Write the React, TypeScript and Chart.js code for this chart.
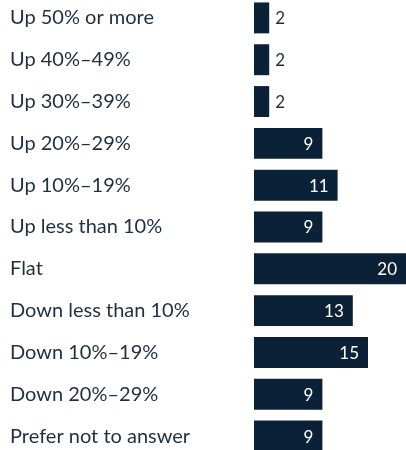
import React, { useEffect, useRef } from "react";
import { Chart, registerables } from "chart.js";

Chart.register(...registerables);

const categories = [
  "Up 50% or more",
  "Up 40%–49%",
  "Up 30%–39%",
  "Up 20%–29%",
  "Up 10%–19%",
  "Up less than 10%",
  "Flat",
  "Down less than 10%",
  "Down 10%–19%",
  "Down 20%–29%",
  "Prefer not to answer",
];
const values = [2, 2, 2, 9, 11, 9, 20, 13, 15, 9, 9];

const BAR = "#0b2137";
const TEXT = "#1f2f40";
const FONT = "Lato, 'Open Sans', sans-serif";

const valueLabels = {
  id: "valueLabels",
  afterDatasetsDraw(chart: any) {
    const ctx = chart.ctx;
    const meta = chart.getDatasetMeta(0);
    ctx.save();
    ctx.font = `17px ${FONT}`;
    ctx.textBaseline = "middle";
    meta.data.forEach((bar: any, i: number) => {
      const v = values[i];
      const txt = String(v);
      if (v >= 5) {
        ctx.fillStyle = "#ffffff";
        ctx.textAlign = "right";
        ctx.fillText(txt, bar.x - 9, bar.y + 1);
      } else {
        ctx.fillStyle = TEXT;
        ctx.textAlign = "left";
        ctx.fillText(txt, bar.x + 6, bar.y + 1);
      }
    });
    ctx.restore();
  },
};

export default function App() {
  const ref = useRef<HTMLCanvasElement>(null);
  useEffect(() => {
    if (!ref.current) return;
    const chart = new Chart(ref.current, {
      type: "bar",
      data: {
        labels: categories,
        datasets: [
          {
            data: values,
            backgroundColor: BAR,
            barPercentage: 0.74,
            categoryPercentage: 1,
          },
        ],
      },
      options: {
        indexAxis: "y",
        responsive: false,
        animation: false,
        layout: { padding: { left: 10, right: 0, top: 0, bottom: 0 } },
        plugins: { legend: { display: false }, tooltip: { enabled: false } },
        scales: {
          x: { display: false, min: 0, max: 20 },
          y: {
            grid: { display: false, drawTicks: false },
            border: { display: false },
            ticks: {
              crossAlign: "far",
              color: TEXT,
              font: { family: FONT, size: 20, lineHeight: 1.2 },
              padding: 0,
            },
            afterFit: (s: any) => {
              s.width = 244;
            },
          },
        },
      },
      plugins: [valueLabels],
    });
    return () => chart.destroy();
  }, []);
  return (
    <div style={{ position: "fixed", left: 0, top: -15, width: 406, height: 484 }}>
      <canvas ref={ref} width={406} height={484} />
    </div>
  );
}
